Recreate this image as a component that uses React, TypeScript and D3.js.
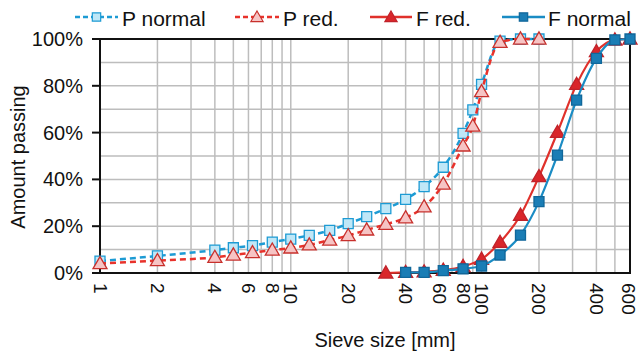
import React, {useEffect, useRef} from 'react';
import * as d3 from 'd3';

// sieve sizes in mm
const pSizes = [1, 2, 4, 5, 6.3, 8, 10, 12.5, 16, 20, 25, 31.5, 40, 50, 63, 80, 90, 100, 125, 160, 200];
const pNormal = [5.1, 7.3, 9.8, 10.8, 11.7, 13.2, 14.5, 16.1, 18.2, 21.1, 24.1, 27.5, 31.5, 36.9, 45.2, 59.7, 69.7, 80.6, 99.1, 100, 100];
const pRed = [4.0, 5.3, 6.7, 7.7, 8.7, 9.8, 10.7, 12.0, 14.1, 16.0, 18.4, 20.8, 23.6, 28.3, 38.0, 54.3, 62.8, 77.5, 98.6, 100, 100];

const fRedSizes = [31.5, 40, 50, 63, 80, 100, 125, 160, 200, 250, 315, 400, 500, 600];
const fRed = [0, 0.3, 0.5, 1.2, 2.8, 5.9, 13.1, 24.7, 41.2, 60.1, 80.6, 94.6, 99.6, 100];
const fNormalSizes = [40, 50, 63, 80, 100, 125, 160, 200, 250, 315, 400, 500, 600];
const fNormal = [0.3, 0.3, 1.0, 1.8, 3.0, 7.7, 16.2, 30.5, 50.4, 73.9, 91.7, 99.6, 100];

const xTickLabels = [1, 2, 4, 6, 8, 10, 20, 40, 60, 80, 100, 200, 400, 600];
const yTickLabels = [0, 20, 40, 60, 80, 100];

const FONT = 'Liberation Sans, Arial, sans-serif';

const Chart = ({width, height}) => {
    const svgRef = useRef();

    useEffect(() => {
        const svg = d3.select(svgRef.current);
        svg.selectAll('*').remove();

        const x = d3.scaleLog().domain([1, 600]).range([100, 630]);
        const y = d3.scaleLinear().domain([0, 100]).range([273, 39]);

        // gridlines
        const vGrid = [];
        [1, 10, 100].forEach(dec => {
            for (let k = 1; k <= 9; k++) if (dec * k <= 600) vGrid.push(dec * k);
        });
        svg.append('g').selectAll('line').data(vGrid).join('line')
            .attr('x1', d => x(d)).attr('x2', d => x(d))
            .attr('y1', y(0)).attr('y2', y(100))
            .attr('stroke', '#bdbdbd').attr('stroke-width', 1.5);
        svg.append('g').selectAll('line').data(d3.range(10, 100, 10)).join('line')
            .attr('x1', x(1)).attr('x2', x(600))
            .attr('y1', d => y(d)).attr('y2', d => y(d))
            .attr('stroke', '#bdbdbd').attr('stroke-width', 1.5);

        // frame
        svg.append('rect')
            .attr('x', x(1)).attr('y', y(100))
            .attr('width', x(600) - x(1)).attr('height', y(0) - y(100))
            .attr('fill', 'none').attr('stroke', '#111').attr('stroke-width', 2);

        // y axis ticks and labels
        const yAx = svg.append('g');
        yAx.selectAll('line').data(yTickLabels).join('line')
            .attr('x1', x(1) - 8).attr('x2', x(1))
            .attr('y1', d => y(d)).attr('y2', d => y(d))
            .attr('stroke', '#111').attr('stroke-width', 2);
        yAx.selectAll('text').data(yTickLabels).join('text')
            .attr('x', 83).attr('y', d => y(d))
            .attr('text-anchor', 'end').attr('dominant-baseline', 'central')
            .style('font', `20px ${FONT}`).attr('fill', '#111')
            .text(d => `${d}%`);

        // x labels, rotated
        svg.append('g').selectAll('text').data(xTickLabels).join('text')
            .attr('transform', d => `translate(${Math.min(x(d), 628)},283) rotate(90)`)
            .attr('text-anchor', 'start').attr('dominant-baseline', 'central')
            .style('font', `19px ${FONT}`).attr('fill', '#111')
            .text(d => d);

        // axis titles
        svg.append('text')
            .attr('transform', `translate(18,157) rotate(-90)`)
            .attr('text-anchor', 'middle').attr('dominant-baseline', 'central')
            .style('font', `20px ${FONT}`).attr('fill', '#111')
            .text('Amount passing');
        svg.append('text')
            .attr('x', 385).attr('y', 347)
            .attr('text-anchor', 'middle')
            .style('font', `20px ${FONT}`).attr('fill', '#111')
            .text('Sieve size [mm]');

        const series = [
            {name: 'P normal', sizes: pSizes, vals: pNormal, line: '#1d9bd4', dash: '6,4', marker: 'square', fill: '#bfe7f7', mstroke: '#1d9bd4'},
            {name: 'P red.', sizes: pSizes, vals: pRed, line: '#e8322b', dash: '6,4', marker: 'triangle', fill: '#f6c4c4', mstroke: '#c8302c'},
            {name: 'F red.', sizes: fRedSizes, vals: fRed, line: '#e0312b', dash: null, marker: 'triangle', fill: '#d9262a', mstroke: '#c0222a'},
            {name: 'F normal', sizes: fNormalSizes, vals: fNormal, line: '#1a8cc4', dash: null, marker: 'square', fill: '#1a7db5', mstroke: '#10679a'},
        ];

        const sym = (m) => d3.symbol().type(m === 'square' ? d3.symbolSquare : d3.symbolTriangle)
            .size(m === 'square' ? 100 : 85);

        const line = d3.line().curve(d3.curveMonotoneX).x(d => x(d[0])).y(d => y(d[1]));

        series.forEach(s => {
            const pts = s.sizes.map((v, i) => [v, s.vals[i]]);
            const g = svg.append('g');
            g.append('path').datum(pts)
                .attr('d', line)
                .attr('fill', 'none')
                .attr('stroke', s.line)
                .attr('stroke-width', s.dash ? 2.5 : 2.2)
                .attr('stroke-dasharray', s.dash);
            g.selectAll('path.m').data(pts).join('path')
                .attr('class', 'm')
                .attr('d', sym(s.marker))
                .attr('transform', d => `translate(${x(d[0])},${y(d[1]) + (s.marker === 'triangle' ? 1 : 0)})`)
                .attr('fill', s.fill).attr('stroke', s.mstroke).attr('stroke-width', 1.3);
        });

        // legend
        const legendPos = [
            {x1: 75, x2: 118, tx: 122},
            {x1: 235, x2: 279, tx: 283},
            {x1: 370, x2: 412, tx: 416},
            {x1: 502, x2: 545, tx: 548},
        ];
        series.forEach((s, i) => {
            const p = legendPos[i];
            const lg = svg.append('g');
            lg.append('line')
                .attr('x1', p.x1).attr('x2', p.x2).attr('y1', 17).attr('y2', 17)
                .attr('stroke', s.line).attr('stroke-width', 2.5)
                .attr('stroke-dasharray', s.dash ? '5,3' : null);
            lg.append('path')
                .attr('d', sym(s.marker).size(s.marker === 'square' ? 70 : 65)())
                .attr('transform', `translate(${(p.x1 + p.x2) / 2},${s.marker === 'triangle' ? 18 : 17})`)
                .attr('fill', s.fill).attr('stroke', s.mstroke).attr('stroke-width', 1.2);
            lg.append('text')
                .attr('x', p.tx).attr('y', 18)
                .attr('dominant-baseline', 'central')
                .style('font', `21px ${FONT}`).attr('fill', '#111')
                .text(s.name);
        });
    }, [width, height]);

    return <svg ref={svgRef} width={width} height={height}
                style={{position: 'absolute', left: 0, top: 0, background: '#fff'}}/>;
};

export default function App() {
    return <Chart width={639} height={355}/>;
}
